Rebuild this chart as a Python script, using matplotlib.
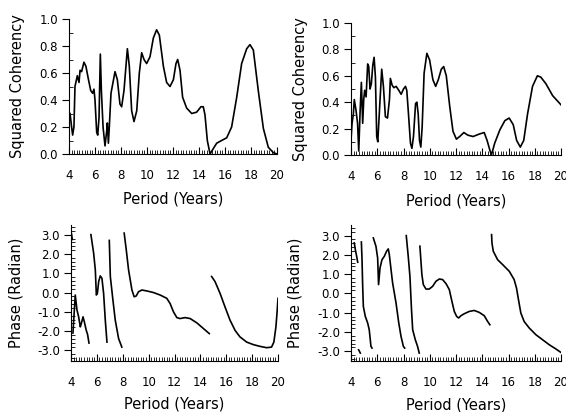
import matplotlib.pyplot as plt
import numpy as np
from matplotlib.ticker import MultipleLocator, FormatStrFormatter

nan = np.nan

# squared coherency, left panel
coh_left_period = [4.08, 4.2, 4.28, 4.38, 4.46, 4.64, 4.77, 4.85, 4.97, 5.15, 5.3, 5.5,
                   5.67, 5.82, 5.92, 6.0, 6.13, 6.21, 6.31, 6.41, 6.49, 6.62, 6.77, 6.9,
                   6.95, 7.03, 7.1, 7.23, 7.54, 7.72, 7.92, 8.05, 8.23, 8.49, 8.64, 8.82,
                   9.0, 9.21, 9.41, 9.59, 9.77, 9.97, 10.23, 10.49, 10.74, 10.95, 11.26,
                   11.51, 11.77, 12.03, 12.23, 12.36, 12.54, 12.74, 13.05, 13.44, 13.82,
                   14.15, 14.33, 14.46, 14.64, 14.85, 15.1, 15.36, 15.74, 16.13, 16.51,
                   16.9, 17.28, 17.67, 17.92, 18.18, 18.56, 18.95, 19.33, 19.72, 20.0]
coh_left_value = [0.30, 0.20, 0.14, 0.20, 0.50, 0.58, 0.53, 0.62, 0.61, 0.68, 0.65, 0.55,
                  0.47, 0.45, 0.48, 0.40, 0.16, 0.14, 0.27, 0.74, 0.47, 0.20, 0.06, 0.17,
                  0.23, 0.08, 0.20, 0.45, 0.61, 0.55, 0.37, 0.35, 0.47, 0.78, 0.65, 0.32,
                  0.24, 0.32, 0.60, 0.75, 0.70, 0.67, 0.72, 0.86, 0.92, 0.88, 0.65,
                  0.53, 0.50, 0.55, 0.67, 0.70, 0.62, 0.42, 0.34, 0.30, 0.31,
                  0.35, 0.35, 0.29, 0.10, 0.0, 0.04, 0.08, 0.10, 0.12, 0.20,
                  0.42, 0.67, 0.78, 0.81, 0.77, 0.47, 0.19, 0.05, 0.01, 0.0]

# squared coherency, right panel
coh_right_period = [4.0, 4.08, 4.18, 4.25, 4.38, 4.5, 4.59, 4.69, 4.79, 4.89, 4.97, 5.04,
                    5.15, 5.27, 5.35, 5.45, 5.55, 5.66, 5.76, 5.86, 5.96, 6.04, 6.17,
                    6.34, 6.47, 6.62, 6.78, 6.93, 7.0, 7.13, 7.26, 7.44, 7.64, 7.82, 8.0,
                    8.15, 8.25, 8.38, 8.53, 8.64, 8.76, 8.92, 9.02, 9.12, 9.22, 9.32,
                    9.42, 9.57, 9.78, 9.99, 10.24, 10.45, 10.65, 10.88, 11.06, 11.26,
                    11.52, 11.77, 12.03, 12.28, 12.6, 12.91, 13.3, 13.81, 14.15, 14.37,
                    14.57, 14.7, 14.95, 15.34, 15.72, 16.05, 16.36, 16.62, 16.9, 17.16,
                    17.45, 17.83, 18.2, 18.46, 18.85, 19.36, 20.0]
coh_right_value = [0.11, 0.24, 0.31, 0.42, 0.34, 0.24, 0.03, 0.32, 0.55, 0.24, 0.42, 0.49,
                   0.44, 0.69, 0.67, 0.50, 0.54, 0.68, 0.74, 0.59, 0.14, 0.10, 0.34,
                   0.65, 0.52, 0.29, 0.28, 0.42, 0.58, 0.53, 0.51, 0.52, 0.49, 0.46, 0.50,
                   0.52, 0.49, 0.31, 0.09, 0.05, 0.14, 0.39, 0.40, 0.31, 0.11, 0.06,
                   0.21, 0.62, 0.77, 0.72, 0.57, 0.52, 0.57, 0.65, 0.67, 0.60,
                   0.37, 0.18, 0.12, 0.14, 0.17, 0.15, 0.14, 0.16, 0.17, 0.11,
                   0.04, 0.0, 0.09, 0.19, 0.26, 0.28, 0.23, 0.11, 0.06, 0.11,
                   0.31, 0.52, 0.60, 0.59, 0.54, 0.45, 0.38]

# phase, left panel (nan = wrap break)
phase_left_period = [4.02, 4.06, 4.1, nan,
                     4.15, 4.24, 4.33, 4.46, 4.59, 4.72, 4.8, 4.93, 5.03, 5.18, 5.28, 5.39, nan,
                     5.54, 5.75, 5.88, 5.96, 6.04, 6.14, 6.26, 6.39, 6.52, 6.65, 6.78, nan,
                     6.96, 7.04, 7.24, 7.42, 7.68, 7.93, nan,
                     8.11, 8.27, 8.45, 8.71, 8.88, 9.04, 9.22, 9.48, 9.87, 10.37, 10.89,
                     11.4, 11.66, 11.92, 12.18, 12.43, 12.82, 13.21, 13.72, 14.24, 14.69, nan,
                     14.87, 15.13, 15.52, 15.9, 16.29, 16.68, 17.06, 17.58, 18.09, 18.6,
                     19.12, 19.5, 19.68, 19.84, 19.94, 20.0]
phase_left_value = [3.1, 2.95, 2.75, nan,
                    -2.1, -1.1, -0.13, -0.9, -1.26, -1.78, -1.6, -1.26, -1.52, -1.96, -2.17, -2.62, nan,
                    3.0, 2.04, 1.17, -0.13, -0.04, 0.57, 0.86, 0.74, -0.04, -1.43, -2.57, nan,
                    2.7, 0.83, -0.39, -1.43, -2.39, -2.83, nan,
                    3.08, 2.22, 1.17, 0.13, -0.22, -0.18, 0.04, 0.13, 0.08, 0.0, -0.13,
                    -0.3, -0.57, -1.0, -1.3, -1.35, -1.3, -1.35, -1.57, -1.87, -2.13, nan,
                    0.83, 0.57, -0.04, -0.74, -1.43, -1.96, -2.3, -2.57, -2.7, -2.79,
                    -2.86, -2.83, -2.57, -1.78, -0.91, -0.3]

# phase, right panel
phase_right_period = [4.25, 4.33, 4.43, 4.51, nan,
                      4.58, 4.71, nan,
                      4.79, 4.84, 4.89, 4.94, 5.09, 5.27, 5.39, 5.52, 5.6, nan,
                      5.7, 5.9, 6.03, 6.1, 6.21, 6.36, 6.54, 6.71, 6.84, 6.92, 7.05, 7.17,
                      7.43, 7.64, 7.81, 7.99, 8.09, nan,
                      8.21, 8.36, 8.49, 8.61, 8.7, 8.9, 9.07, 9.2, nan,
                      9.25, 9.33, 9.4, 9.51, 9.71, 9.96, 10.22, 10.47, 10.73, 10.98, 11.24,
                      11.49, 11.69, 11.87, 12.05, 12.2, 12.38, 12.63, 13.01, 13.39, 13.77,
                      14.15, 14.41, 14.58, nan,
                      14.71, 14.74, 14.84, 15.17, 15.55, 16.06, 16.43, 16.61, 16.76, 16.94,
                      17.19, 17.58, 18.09, 18.6, 19.11, 19.62, 20.0]
phase_right_value = [2.62, 2.27, 1.93, 1.62, nan,
                     -2.92, -3.09, nan,
                     2.67, 1.75, 0.37, -0.67, -1.19, -1.53, -1.88, -2.74, -2.83, nan,
                     2.88, 2.45, 1.84, 0.46, 1.32, 1.75, 1.93, 2.19, 2.31, 2.01, 1.24, 0.55,
                     -0.49, -1.53, -2.22, -2.74, -2.83, nan,
                     3.0, 1.93, 0.89, -0.84, -1.88, -2.4, -2.74, -3.09, nan,
                     2.45, 1.67, 0.98, 0.46, 0.23, 0.23, 0.37, 0.63, 0.75, 0.72, 0.51,
                     0.2, -0.41, -0.93, -1.19, -1.27, -1.15, -1.05, -0.93, -0.88, -0.98,
                     -1.15, -1.45, -1.62, nan,
                     3.05, 2.62, 2.19, 1.75, 1.5, 1.15, 0.72, 0.28, -0.32, -1.01,
                     -1.45, -1.79, -2.14, -2.4, -2.66, -2.88, -3.06]

plt.rcParams['font.family'] = 'DejaVu Sans'
plt.rcParams['axes.unicode_minus'] = False

fig = plt.figure(figsize=(5.66, 4.12), dpi=100)

W, H = 566, 412
def px_axes(x0, x1, ytop, ybot):
    return fig.add_axes([x0 / W, 1 - ybot / H, (x1 - x0) / W, (ybot - ytop) / H])

ax_tl = px_axes(69, 277, 19, 154)
ax_tr = px_axes(351, 561, 23, 155)
ax_bl = px_axes(71, 278, 225, 361)
ax_br = px_axes(351, 561, 225, 361)

def style(ax, ymaj, ymin, ylabel, ylx, xly):
    for s in ['top', 'right']:
        ax.spines[s].set_visible(False)
    ax.set_xlim(4, 20)
    ax.xaxis.set_major_locator(MultipleLocator(2))
    ax.xaxis.set_minor_locator(MultipleLocator(0.2))
    ax.yaxis.set_major_locator(MultipleLocator(ymaj))
    ax.yaxis.set_minor_locator(MultipleLocator(ymin))
    ax.yaxis.set_major_formatter(FormatStrFormatter('%.1f'))
    ax.tick_params(axis='x', which='major', direction='in', length=5, pad=11, labelsize=8.5)
    ax.tick_params(axis='x', which='minor', direction='in', length=3)
    ax.tick_params(axis='y', which='major', direction='out', length=5, pad=3, labelsize=8.5)
    ax.tick_params(axis='y', which='minor', direction='in', length=3)
    ax.set_xlabel('Period (Years)', fontsize=10.5)
    ax.set_ylabel(ylabel, fontsize=10.5)
    ax.yaxis.set_label_coords(ylx, 0.5)
    ax.xaxis.set_label_coords(0.5, xly)

ax_tl.plot(coh_left_period, coh_left_value, color='black', lw=1.2)
ax_tl.set_ylim(0, 1)
style(ax_tl, 0.2, 0.1, 'Squared Coherency', -0.21, -0.28)

ax_tr.plot(coh_right_period, coh_right_value, color='black', lw=1.2)
ax_tr.set_ylim(0, 1)
style(ax_tr, 0.2, 0.1, 'Squared Coherency', -0.205, -0.29)

ax_bl.plot(phase_left_period, phase_left_value, color='black', lw=1.2)
ax_bl.set_ylim(-3.55, 3.5)
ax_bl.set_yticks(np.arange(-3, 3.1, 1))
style(ax_bl, 1.0, 0.2, 'Phase (Radian)', -0.23, -0.26)

ax_br.plot(phase_right_period, phase_right_value, color='black', lw=1.2)
ax_br.set_ylim(-3.5, 3.55)
style(ax_br, 1.0, 0.2, 'Phase (Radian)', -0.23, -0.27)

fig.savefig('out.png', dpi=100)
